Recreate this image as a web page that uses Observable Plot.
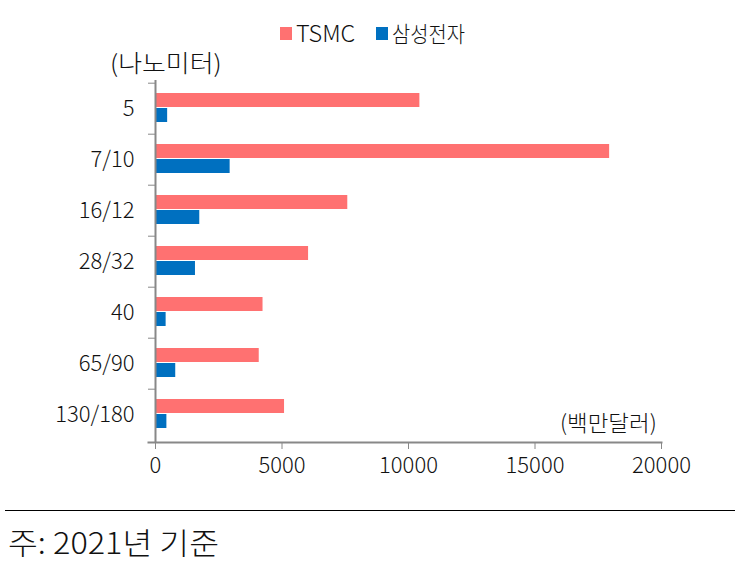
<!DOCTYPE html>
<html>
<head>
<meta charset="utf-8">
<script src="https://cdn.jsdelivr.net/npm/d3@7"></script>
<script src="https://cdn.jsdelivr.net/npm/@observablehq/plot@0.6"></script>
<style>
  html, body { margin: 0; padding: 0; background: #fff; }
  #wrap { position: relative; width: 742px; height: 563px; font-family: "Noto Sans CJK KR", sans-serif; font-weight: 300; color: #111; }
  .abs { position: absolute; white-space: nowrap; }
  .sc { display: inline-block; transform-origin: left center; }
  .sw { position: absolute; width: 12px; height: 13px; }
  #chart svg text { font-weight: 300; }
</style>
</head>
<body>
<div id="wrap">
  <div id="chart" class="abs" style="left:0;top:0"></div>
  <div class="sw" style="left:280px;top:27px;background:#FF7171"></div>
  <div class="abs sc" style="left:296px;top:16px;font-size:23px;line-height:32px;transform:scaleX(1.02);">TSMC</div>
  <div class="sw" style="left:376px;top:27px;background:#0070C0"></div>
  <div class="abs sc" style="left:392px;top:16px;font-size:22px;line-height:32px;transform:scaleX(0.9);">삼성전자</div>
  <div class="abs sc" style="left:110px;top:46px;font-size:24px;line-height:32px;transform:scaleX(1.08);">(나노미터)</div>
  <div class="abs sc" style="left:560px;top:405px;font-size:22px;line-height:32px;transform:scaleX(1.02);">(백만달러)</div>
  <div class="abs" style="left:5px;top:510px;width:730px;height:0;border-top:1px solid #000;"></div>
  <div class="abs sc" style="left:8px;top:520px;font-size:30px;line-height:42px;transform:scaleX(1.08);">주: 2021년 기준</div>
</div>
<script>
const categories = ["5", "7/10", "16/12", "28/32", "40", "65/90", "130/180"];
const tsmc = [10450, 17950, 7600, 6050, 4250, 4100, 5100];
const samsung = [480, 2950, 1750, 1580, 420, 800, 450];
const xTicks = [0, 5000, 10000, 15000, 20000];

const rowsT = categories.map((c, i) => ({cat: c, value: tsmc[i]}));
const rowsS = categories.map((c, i) => ({cat: c, value: samsung[i]}));

const chart = Plot.plot({
  width: 742,
  height: 500,
  marginTop: 80,
  marginBottom: 58,
  marginLeft: 155,
  marginRight: 81,
  style: {fontFamily: "'Noto Sans CJK KR', sans-serif", fontSize: "22px", color: "#111", background: "transparent"},
  x: {domain: [0, 20000]},
  y: {domain: categories, padding: 0},
  marks: [
    Plot.barX(rowsT, {y: "cat", x: "value", fill: "#FF7171", insetTop: 10, insetBottom: 27, insetLeft: 1}),
    Plot.barX(rowsS, {y: "cat", x: "value", fill: "#0070C0", insetTop: 25, insetBottom: 12, insetLeft: 1}),
    Plot.axisX({ticks: xTicks, tickFormat: d => String(d), tickSize: 7, tickPadding: 8, stroke: "#888", fill: "#111", label: null, fontSize: 22}),
    Plot.axisY({tickSize: 0, tickPadding: 21, label: null, fontSize: 22, fill: "#111"}),
    Plot.axisY({tickSize: 7, tickFormat: () => "", dy: -25.8, stroke: "#888", label: null}),
    Plot.frame({anchor: "bottom", stroke: "#888", strokeWidth: 2, insetLeft: -7}),
    Plot.ruleX([0], {stroke: "#888", strokeWidth: 2})
  ]
});
document.getElementById("chart").appendChild(chart);
</script>
</body>
</html>
